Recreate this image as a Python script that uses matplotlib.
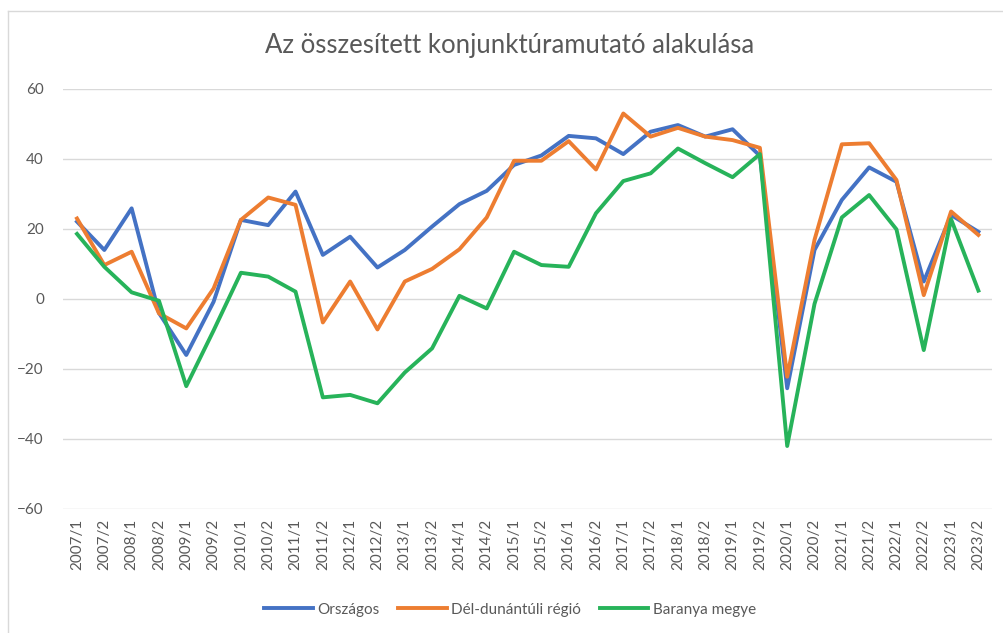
import matplotlib
matplotlib.use("Agg")
import matplotlib.pyplot as plt
from matplotlib.lines import Line2D

plt.rcParams['font.family'] = ['Lato', 'DejaVu Sans']

# negyedévek (félévek) címkéi
idoszak = ["2007/1", "2007/2", "2008/1", "2008/2", "2009/1", "2009/2",
           "2010/1", "2010/2", "2011/1", "2011/2", "2012/1", "2012/2",
           "2013/1", "2013/2", "2014/1", "2014/2", "2015/1", "2015/2",
           "2016/1", "2016/2", "2017/1", "2017/2", "2018/1", "2018/2",
           "2019/1", "2019/2", "2020/1", "2020/2", "2021/1", "2021/2",
           "2022/1", "2022/2", "2023/1", "2023/2"]

orszagos = [22.1, 14.0, 25.9, -4.0, -16.0, -0.8, 22.6, 21.1, 30.7, 12.6,
            17.8, 9.0, 14.0, 20.7, 27.1, 30.9, 38.3, 41.0, 46.6, 45.9,
            41.4, 47.8, 49.7, 46.4, 48.5, 40.9, -25.5, 14.0, 28.3, 37.6,
            33.5, 5.0, 24.0, 19.2]

del_dunantul = [23.0, 9.7, 13.5, -4.1, -8.4, 3.0, 22.6, 29.0, 26.9, -6.7,
                5.0, -8.7, 5.0, 8.6, 14.2, 23.3, 39.5, 39.5, 45.1, 37.0,
                53.0, 46.4, 48.9, 46.4, 45.4, 43.2, -22.2, 16.9, 44.2, 44.5,
                34.0, 1.1, 25.0, 18.3]

baranya = [18.6, 9.2, 1.9, -0.5, -24.9, -9.0, 7.5, 6.4, 2.1, -28.1,
           -27.4, -29.8, -21.0, -14.1, 0.9, -2.7, 13.5, 9.7, 9.2, 24.5,
           33.7, 35.9, 43.0, 38.8, 34.8, 41.4, -42.0, -1.4, 23.3, 29.7,
           19.9, -14.6, 22.8, 2.4]

szurke = "#595959"

fig = plt.figure(figsize=(10.04, 6.33), dpi=100)
ax = fig.add_axes([0.0631, 0.1959, 0.925, 0.6635])

x = list(range(len(idoszak)))
ax.plot(x, orszagos, color="#4472C4", lw=2.8, label="Országos", solid_joinstyle="round")
ax.plot(x, del_dunantul, color="#ED7D31", lw=2.8, label="Dél-dunántúli régió", solid_joinstyle="round")
ax.plot(x, baranya, color="#27B35A", lw=2.8, label="Baranya megye", solid_joinstyle="round")

ax.set_xlim(-0.5, len(idoszak) - 0.5)
ax.set_ylim(-60, 60)
ax.set_yticks(range(-60, 61, 20))
ax.set_xticks(x)
ax.set_xticklabels(idoszak, rotation=90)
ax.tick_params(axis="both", length=0, colors=szurke, labelsize=11)
ax.tick_params(axis="y", pad=14)
ax.tick_params(axis="x", pad=7)
ax.grid(axis="y", color="#D9D9D9", lw=1)
ax.set_axisbelow(True)
for s in ax.spines.values():
    s.set_visible(False)

fig.text(0.508, 0.928, "Az összesített konjunktúramutató alakulása",
         ha="center", va="center", fontsize=18.5, color=szurke)

fig.legend(loc="center", bbox_to_anchor=(0.508, 0.037), ncol=3, frameon=False,
           fontsize=11, labelcolor=szurke, handlelength=3.2, handletextpad=0.3,
           columnspacing=1.2)

# keret a diagram körül: csak a bal és a felső széle látszik
keret_x, keret_y = 0.0075, 0.982
fig.add_artist(Line2D([keret_x, keret_x], [0, keret_y], transform=fig.transFigure,
                      color="#D9D9D9", lw=1))
fig.add_artist(Line2D([keret_x, 1], [keret_y, keret_y], transform=fig.transFigure,
                      color="#D9D9D9", lw=1))

fig.savefig("out.png", dpi=100)
